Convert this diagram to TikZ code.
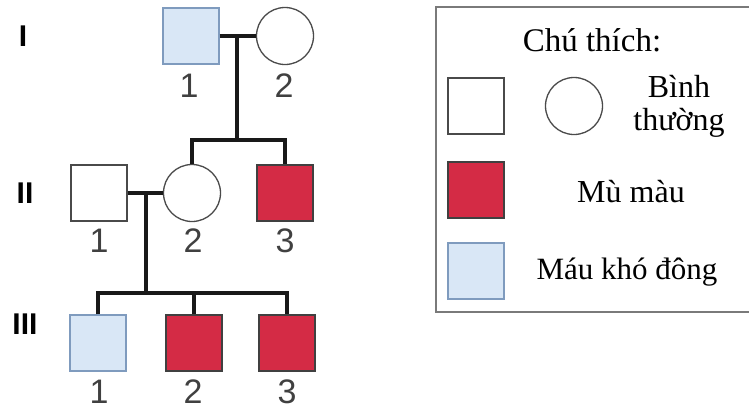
\documentclass[tikz,border=0pt]{standalone}
\usepackage{fontspec}
\setmainfont{Liberation Serif}
\newfontfamily\numfont{Liberation Sans}
\usetikzlibrary{calc}
\definecolor{mured}{HTML}{D42B45}
\definecolor{hemoblue}{HTML}{D9E7F6}
\definecolor{hemoline}{HTML}{B9CEE6}
\definecolor{hemoedge}{HTML}{7F9BBE}
\definecolor{shapeedge}{HTML}{4A4A4A}
\definecolor{boxgray}{HTML}{7A7A7A}
\tikzset{
  sq/.style={draw=shapeedge, line width=1.3pt, minimum size=56pt, inner sep=0pt, rectangle, fill=white},
  ci/.style={draw=shapeedge, line width=1.3pt, minimum size=57pt, inner sep=0pt, circle, fill=white},
  cb/.style={sq, fill=mured, draw=black!75},
  hemo/.style={sq, fill=hemoblue, draw=hemoedge, path picture={
      \foreach \k in {1,...,19}{\draw[hemoline, line width=0.5pt]
        ($(path picture bounding box.north west)+(0,-\k*2.9)$) -- ++(60,0);}}},
  conn/.style={line width=3.2pt, black!90},
  num/.style={font=\numfont\fontsize{34}{34}\selectfont, text=black!75, inner sep=0pt},
  gen/.style={font=\numfont\bfseries\fontsize{30}{30}\selectfont},
  lg/.style={font=\fontsize{32}{33}\selectfont, align=center}
}
\begin{document}
\begin{tikzpicture}[x=1pt,y=-1pt]
\useasboundingbox (0,0) rectangle (749,410);
\fill[white] (0,0) rectangle (749,410);
% generation labels
\node[gen] (gI) at (23,36) {I};
\node[gen] (gII) at (25,193) {II};
\node[gen] (gIII) at (25,324) {III};
% generation I
\node[hemo] (I1) at (191,36) {};
\node[ci] (I2) at (285,36) {};
\node[num] (lI1) at (189,86) {1};
\node[num] (lI2) at (284,86) {2};
% generation II
\node[sq] (II1) at (99,193) {};
\node[ci] (II2) at (192,193) {};
\node[cb] (II3) at (285,193) {};
\node[num] (lII1) at (99,241) {1};
\node[num] (lII2) at (193,241) {2};
\node[num] (lII3) at (285,241) {3};
% generation III
\node[hemo] (III1) at (98,343) {};
\node[cb] (III2) at (194,343) {};
\node[cb] (III3) at (287,343) {};
\node[num] (lIII1) at (99,392) {1};
\node[num] (lIII2) at (193,392) {2};
\node[num] (lIII3) at (287,392) {3};
% connectors
\coordinate (m1) at (237,36);
\coordinate (s1) at (237,140);
\coordinate (m2) at (146,193);
\coordinate (s2) at (146,293);
\draw[conn] (I1.east) -- (I2.west);
\draw[conn] (m1) -- (s1);
\draw[conn] (II2.north) -- (II2.north |- s1) -- (II3.north |- s1) -- (II3.north);
\draw[conn] (II1.east) -- (II2.west);
\draw[conn] (m2) -- (s2);
\draw[conn] (III1.north) -- (III1.north |- s2) -- (III3.north |- s2) -- (III3.north);
\draw[conn] (III2.north) -- (III2.north |- s2);
% legend
\draw[boxgray, line width=1.8pt] (760,7) -- (436,7) -- (436,312) -- (760,312);
\node[lg, font=\fontsize{33}{34}\selectfont] (title) at (592,40) {Chú thích:};
\node[sq] (L1) at (476,106) {};
\node[ci] (L2) at (574,106) {};
\node[lg] (Lt1) at (679,106) {Bình\\thường};
\node[cb] (L3) at (476,190) {};
\node[lg] (Lt2) at (631,192) {Mù màu};
\node[hemo] (L4) at (476,271) {};
\node[lg, font=\fontsize{31}{33}\selectfont] (Lt3) at (627,272) {Máu khó đông};
\end{tikzpicture}
\end{document}
